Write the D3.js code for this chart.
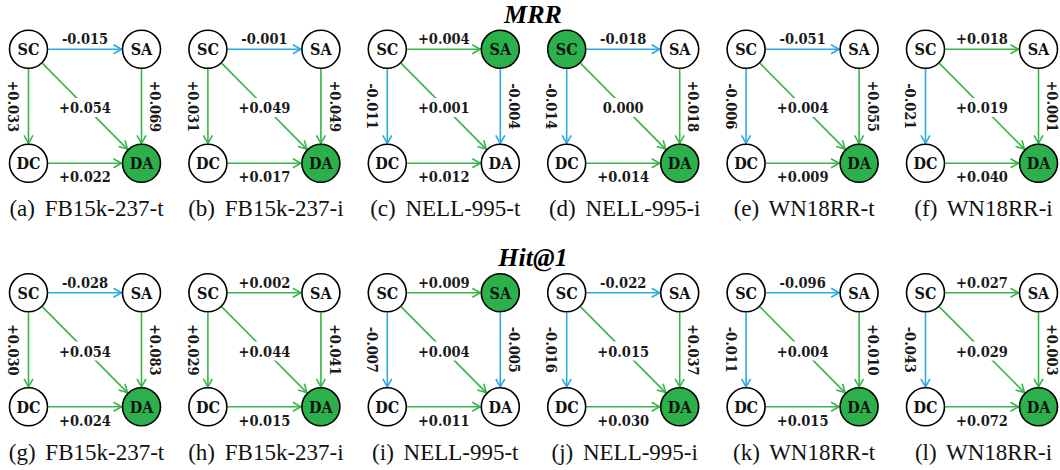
<!DOCTYPE html>
<html><head><meta charset="utf-8">
<script src="https://cdn.jsdelivr.net/npm/d3@7"></script>
<style>
html,body{margin:0;padding:0;background:#fff;}
svg{display:block;}
</style></head>
<body>
<svg id="chart" width="1060" height="470"></svg>
<script>
// ---- data ----
const metrics = ["MRR", "Hit@1"];
const datasets = ["FB15k-237-t", "FB15k-237-i", "NELL-995-t", "NELL-995-i", "WN18RR-t", "WN18RR-i"];
const letters = ["a","b","c","d","e","f","g","h","i","j","k","l"];
const nodes = [
  {id:"SC", col:0, row:0},
  {id:"SA", col:1, row:0},
  {id:"DC", col:0, row:1},
  {id:"DA", col:1, row:1}
];
// edge order: SC->SA, SC->DC, SC->DA, SA->DA, DC->DA
const edges = [["SC","SA"],["SC","DC"],["SC","DA"],["SA","DA"],["DC","DA"]];
const mrrValues = [
  [-0.015, 0.033, 0.054, 0.069, 0.022],
  [-0.001, 0.031, 0.049, 0.049, 0.017],
  [ 0.004,-0.011, 0.001,-0.004, 0.012],
  [-0.018,-0.014, 0.000, 0.018, 0.014],
  [-0.051,-0.006, 0.004, 0.055, 0.009],
  [ 0.018,-0.021, 0.019, 0.001, 0.040]
];
const hitValues = [
  [-0.028, 0.030, 0.054, 0.083, 0.024],
  [ 0.002, 0.029, 0.044, 0.041, 0.015],
  [ 0.009,-0.007, 0.004,-0.005, 0.011],
  [-0.022,-0.016, 0.015, 0.037, 0.030],
  [-0.096,-0.011, 0.004, 0.010, 0.015],
  [ 0.027,-0.043, 0.029, 0.003, 0.072]
];
// highlighted (best) nodes per panel
const mrrBest = [["DA"],["DA"],["SA"],["SC","DA"],["DA"],["DA"]];
const hitBest = [["DA"],["DA"],["SA"],["DA"],["DA"],["DA"]];

// ---- style ----
const GREEN = "#39b54a", BLUE = "#29abe2", FILL = "#2cb04b";
const R = 19;
const labelFont = "'DejaVu Serif', 'Liberation Serif', serif";

const svg = d3.select("#chart");
const colX = d3.scaleLinear().domain([0,5]).range([28.5, 28.5 + 5*179.4]);
const rowY = d3.scaleLinear().domain([0,1]).range([49.3, 49.3 + 243.5]);
const nx = d3.scaleLinear().domain([0,1]).range([0,113]);
const ny = d3.scaleLinear().domain([0,1]).range([0,114]);

const defs = svg.append("defs");
[["g",GREEN],["b",BLUE]].forEach(([k,c])=>{
  defs.append("marker").attr("id","arr-"+k)
    .attr("viewBox","-10 -6 12 12").attr("refX",0).attr("refY",0)
    .attr("markerWidth",12).attr("markerHeight",12)
    .attr("markerUnits","userSpaceOnUse").attr("orient","auto")
    .append("path").attr("d","M-8,-4.5 L0,0 L-8,4.5")
    .attr("fill","none").attr("stroke",c).attr("stroke-width",1.6);
});

const fmt = v => v === 0 ? "0.000" : (v > 0 ? "+" : "-") + Math.abs(v).toFixed(3);

// titles
metrics.forEach((m,r)=>{
  svg.append("text").attr("x",533).attr("y",rowY(r) - 26.6)
    .attr("text-anchor","middle")
    .attr("font-family","'Liberation Serif', 'Times New Roman', serif")
    .attr("font-weight","bold").attr("font-style","italic")
    .attr("font-size",26).text(m);
});

metrics.forEach((m,r)=>{
  const vals = r === 0 ? mrrValues : hitValues;
  const best = r === 0 ? mrrBest : hitBest;
  datasets.forEach((ds,c)=>{
    const ox = colX(c), oy = rowY(r);
    const g = svg.append("g").attr("transform",`translate(${ox},${oy})`);
    const pos = {};
    nodes.forEach(n=>{ pos[n.id] = [nx(n.col), ny(n.row)]; });
    edges.forEach((e,i)=>{
      const v = vals[c][i];
      const col = v < 0 ? BLUE : GREEN;
      const [x1,y1] = pos[e[0]], [x2,y2] = pos[e[1]];
      const dx = x2-x1, dy = y2-y1, L = Math.hypot(dx,dy);
      const ux = dx/L, uy = dy/L;
      const sx = x1 + ux*(R+0.8), sy = y1 + uy*(R+0.8);
      const ex = x2 - ux*(R+1), ey = y2 - uy*(R+1);
      g.append("line").attr("x1",sx).attr("y1",sy).attr("x2",ex).attr("y2",ey)
        .attr("stroke",col).attr("stroke-width",1.6)
        .attr("marker-end",`url(#arr-${v<0?"b":"g"})`);
      // label
      const mx = (x1+x2)/2, my = (y1+y2)/2;
      let lx = mx, ly = my, rot = 0;
      if (i === 0) { ly = my - 10.5; }
      else if (i === 4) { ly = my + 13.5; }
      else if (i === 1) { lx = mx - 15; rot = 90; }
      else if (i === 3) { lx = mx + 14; rot = 90; }
      else if (i === 2) { lx = mx; ly = my + 1.5; }
      const t = g.append("text")
        .attr("transform",`translate(${lx},${ly}) rotate(${rot})`)
        .attr("text-anchor","middle").attr("dy","0.36em")
        .attr("font-family",labelFont).attr("font-stretch","condensed")
        .attr("font-weight","bold").attr("font-size",14.5)
        .attr("fill","#1a1a1a").text(fmt(v));
      if (i === 2) {
        const bb = t.node().getBBox();
        g.insert("rect", () => t.node())
          .attr("x", lx + bb.x - 2).attr("y", ly + bb.y - 1)
          .attr("width", bb.width + 4).attr("height", bb.height + 2)
          .attr("fill","#fff");
      }
    });
    nodes.forEach(n=>{
      const [x,y] = pos[n.id];
      const hi = best[c].includes(n.id);
      g.append("circle").attr("cx",x).attr("cy",y).attr("r",R)
        .attr("fill", hi ? FILL : "#fff").attr("stroke","#000").attr("stroke-width",1.6);
      g.append("text").attr("x",x).attr("y",y).attr("dy","0.36em")
        .attr("text-anchor","middle")
        .attr("font-family",labelFont).attr("font-stretch","condensed")
        .attr("font-weight","bold").attr("font-size",16)
        .attr("fill","#111").text(n.id);
    });
    // caption
    const cap = svg.append("text").attr("x", ox + 58).attr("y", oy + 166.7)
      .attr("text-anchor","middle")
      .attr("font-family","'Liberation Serif', 'Times New Roman', serif")
      .attr("font-size",23).attr("fill","#111");
    cap.append("tspan").text(`(${letters[r*6+c]})`);
    cap.append("tspan").attr("dx",4).text(" " + ds);
  });
});
</script>
</body></html>
